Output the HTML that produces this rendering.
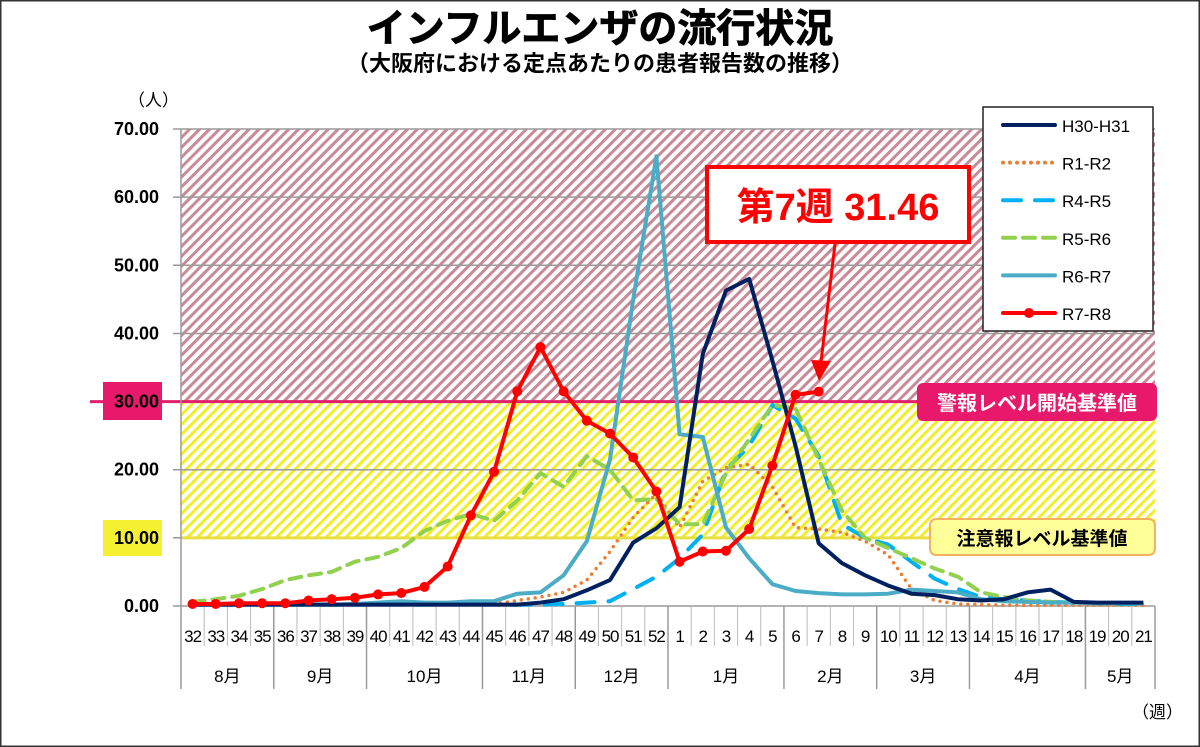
<!DOCTYPE html>
<html><head><meta charset="utf-8"><style>
html,body{margin:0;padding:0;background:#fff}
svg{display:block}
text{font-family:"Liberation Sans","Noto Sans CJK JP",sans-serif}
</style></head><body>
<svg id="s" width="1200" height="747" viewBox="0 0 1200 747" xmlns="http://www.w3.org/2000/svg">
<defs>
<pattern id="hp" width="7" height="7" patternUnits="userSpaceOnUse" patternTransform="rotate(45)">
<rect width="7" height="7" fill="#fff"/><rect width="3" height="7" fill="#c98a97"/></pattern>
<pattern id="hy" width="7" height="7" patternUnits="userSpaceOnUse" patternTransform="rotate(45)">
<rect width="7" height="7" fill="#fff"/><rect width="3" height="7" fill="#f2ee2a"/></pattern>
</defs>
<rect x="0.5" y="0.5" width="1199" height="746" fill="#fff" stroke="#333" stroke-width="2"/>
<text x="600" y="42" text-anchor="middle" font-size="39" font-weight="bold" stroke="#000" stroke-width="0.8">インフルエンザの流行状況</text>
<text x="600" y="71" text-anchor="middle" font-size="22" font-weight="bold">（大阪府における定点あたりの患者報告数の推移）</text>
<text x="128" y="106" font-size="17">（人）</text>
<text x="1132" y="718" font-size="17">（週）</text>
<g id="g"></g>
</svg>
<script>
const g=document.getElementById('g');
const X0=181,X1=1155,W=(X1-X0)/42;
const Y=v=>606-6.814*v;
const cx=i=>X0+W*(i+0.5);
let h='';
h+=`<rect x="${X0}" y="${Y(70)}" width="${X1-X0}" height="${Y(30)-Y(70)}" fill="url(#hp)"/>`;
h+=`<rect x="${X0}" y="${Y(30)}" width="${X1-X0}" height="${Y(10)-Y(30)}" fill="url(#hy)"/>`;
for(let v=0;v<=70;v+=10){
 h+=`<line x1="${X0-8}" x2="${X1}" y1="${Y(v)}" y2="${Y(v)}" stroke="#9a9a9a" stroke-width="1.5"/>`;
}
h+=`<line x1="${X0}" x2="${X1}" y1="${Y(10)}" y2="${Y(10)}" stroke="#e8e040" stroke-width="3"/>`;
h+=`<line x1="90" x2="${X1}" y1="${Y(30)}" y2="${Y(30)}" stroke="#e0206a" stroke-width="3"/>`;
h+=`<rect x="103" y="382" width="59" height="38" fill="#e8196a"/>`;
h+=`<rect x="103" y="520" width="59" height="36" fill="#f6f032"/>`;
for(let v=0;v<=70;v+=10){
 h+=`<text x="159" y="${Y(v)+6}" text-anchor="end" font-size="18" font-weight="bold">${v.toFixed(2)}</text>`;
}
h+=`<line x1="${X0}" x2="${X0}" y1="${Y(70)}" y2="689" stroke="#9a9a9a" stroke-width="1.5"/>`;
const wk=[];for(let w=32;w<=52;w++)wk.push(w);for(let w=1;w<=21;w++)wk.push(w);
for(let i=0;i<42;i++){
 h+=`<line x1="${X0+W*(i+1)}" x2="${X0+W*(i+1)}" y1="606" y2="646" stroke="#bbb" stroke-width="1"/>`;
 h+=`<text x="${cx(i)}" y="642" text-anchor="middle" font-size="17" letter-spacing="-1">${wk[i]}</text>`;
}
const months=[['8月',4],['9月',4],['10月',5],['11月',4],['12月',4],['1月',5],['2月',4],['3月',4],['4月',5],['5月',3]];
let k=0;
for(const [m,n] of months){
 const a=X0+W*k,b=X0+W*(k+n);
 h+=`<line x1="${b}" x2="${b}" y1="606" y2="689" stroke="#9a9a9a" stroke-width="1.5"/>`;
 h+=`<text x="${(a+b)/2}" y="682" text-anchor="middle" font-size="17">${m}</text>`;
 k+=n;
}
function pts(a){return a.map((v,i)=>v==null?null:`${cx(i).toFixed(1)},${Y(v).toFixed(1)}`).filter(x=>x).join(' ')}
const z=n=>Array(n).fill(0.2);
const H30=[...z(15),0.5,1.0,2.3,3.8,9.3,11.4,14.5,37,46.3,48,36,23.5,9.2,6.3,4.5,3,1.8,1.6,1,0.8,1.0,2.0,2.4,0.6,0.5,0.5,0.5];
const R1=[...z(13),0.3,0.8,1.3,2,3.8,8,13,16.5,11.5,18.3,20.3,20.8,17.5,11.5,11.3,10.8,9.5,7.5,2.5,0.8,0.3,0.2,0.1,0.1,0.1,0.1,0.1,0.1,0.1];
const R4=[...z(16),0.3,0.5,0.7,2.5,4.3,7,10.5,20,23.5,29.5,27.5,22,12,10,9,6.5,4,2.5,1.3,1,0.8,0.6,0.5,0.4,0.3,0.3];
const R5=[0.6,1.0,1.5,2.5,3.8,4.5,5,6.5,7.2,8.5,11,12.5,13.5,12.5,15.5,19.5,17.5,22,20,15.5,15.7,12,12,19.5,24.5,29.5,29,21.5,14,10,8.5,7,5.5,4.3,2,1.3,0.8,0.6,0.5,0.4,0.4,0.4];
const R6=[0.2,0.2,0.2,0.2,0.2,0.2,0.2,0.3,0.5,0.7,0.5,0.5,0.7,0.7,1.8,2,4.5,9.5,21.5,45,66,25.2,24.8,11.5,7,3.2,2.2,1.9,1.7,1.7,1.8,2.4,2.2,2,1,0.7,0.6,0.5,0.5,0.4,0.4,0.4];
const R7=[0.3,0.3,0.4,0.4,0.4,0.8,1.0,1.2,1.7,1.9,2.8,5.8,13.3,19.7,31.5,38.0,31.5,27.2,25.3,21.8,16.8,6.5,8.0,8.1,11.3,20.6,31.0,31.46];
const ln=(a,c,w,d,cap)=>`<polyline points="${pts(a)}" fill="none" stroke="${c}" stroke-width="${w}" ${d?`stroke-dasharray="${d}"`:''} stroke-linecap="${cap||'butt'}" stroke-linejoin="round"/>`;
h+=ln(R1,'#ed7d31',3.5,'0 7','round');
h+=ln(R4,'#00b0f0',4,'18 14','round');
h+=ln(R5,'#92d050',4,'12 8','round');
h+=ln(R6,'#4bacc6',4);
h+=ln(H30,'#002060',4);
h+=ln(R7,'#ff0000',4);
R7.forEach((v,i)=>h+=`<circle cx="${cx(i)}" cy="${Y(v)}" r="5" fill="#ff0000"/>`);
h+=`<rect x="917" y="383" width="240" height="38" rx="6" fill="#e8196a"/>`;
h+=`<text x="1037" y="410" text-anchor="middle" font-size="20" font-weight="bold" fill="#fff">警報レベル開始基準値</text>`;
h+=`<rect x="930" y="519" width="225" height="36" rx="6" fill="#ffff99" stroke="#f5b060" stroke-width="2"/>`;
h+=`<text x="1042" y="545" text-anchor="middle" font-size="19" font-weight="bold" fill="#000">注意報レベル基準値</text>`;
h+=`<rect x="707" y="167" width="262" height="75" fill="#fff" stroke="#ff0000" stroke-width="4"/>`;
h+=`<text x="838" y="220" text-anchor="middle" font-size="38" font-weight="bold" fill="#ff0000">第7週 31.46</text>`;
h+=`<line x1="835" y1="244" x2="821" y2="362" stroke="#ff0000" stroke-width="3"/>`;
h+=`<polygon points="811,360 831,361 819,381" fill="#ff0000"/>`;
h+=`<rect x="983" y="107" width="170" height="224" fill="#fff" stroke="#222" stroke-width="1.5"/>`;
const L=[['H30-H31','#002060',''],['R1-R2','#ed7d31','0 7'],['R4-R5','#00b0f0','18 14'],['R5-R6','#92d050','12 8'],['R6-R7','#4bacc6',''],['R7-R8','#ff0000','']];
L.forEach((l,i)=>{const y=125+37.6*i;
 h+=`<line x1="1003" x2="1055" y1="${y}" y2="${y}" stroke="${l[1]}" stroke-width="4" stroke-linecap="round" ${l[2]?`stroke-dasharray="${l[2]}"`:''}/>`;
 if(i==5)h+=`<circle cx="1029" cy="${y}" r="5" fill="#ff0000"/>`;
 h+=`<text x="1062" y="${y+7}" font-size="17">${l[0]}</text>`;});
g.innerHTML=h;
</script>
</body></html>
